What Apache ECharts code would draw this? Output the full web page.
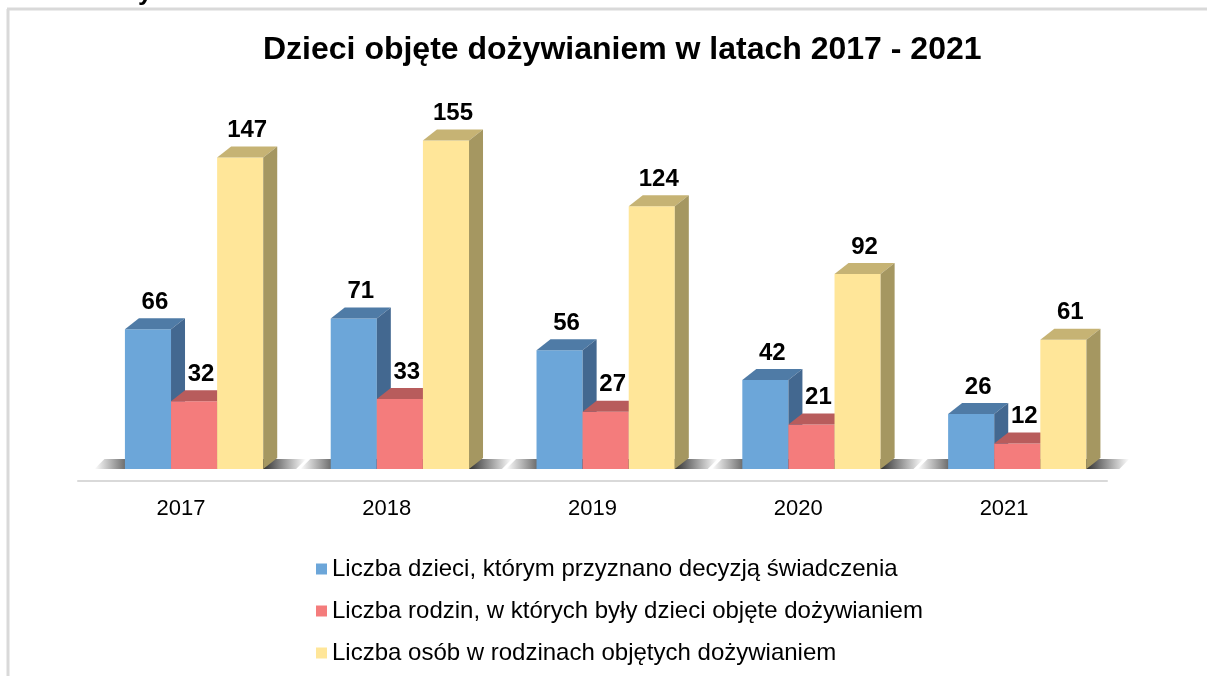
<!DOCTYPE html>
<html lang="pl">
<head>
<meta charset="UTF-8">
<title>Dzieci objęte dożywianiem</title>
<script src="https://cdn.jsdelivr.net/npm/echarts@6/dist/echarts.min.js"></script>
<style>
  html, body { margin: 0; padding: 0; background: #fff; }
  #chart { width: 1207px; height: 676px; }
</style>
</head>
<body>
<div id="chart"></div>
<script>
var years = ['2017', '2018', '2019', '2020', '2021'];
var dzieci = [66, 71, 56, 42, 26];
var rodziny = [32, 33, 27, 21, 12];
var osoby = [147, 155, 124, 92, 61];
var seriesNames = [
  'Liczba dzieci, którym przyznano decyzją świadczenia',
  'Liczba rodzin, w których były dzieci objęte dożywianiem',
  'Liczba osób w rodzinach objętych dożywianiem'
];

// front / top / side colours for each series
var faces = [
  ['#6ca6d9', '#4f7ba6', '#436890'],
  ['#f47c7c', '#b85c5c', '#a35050'],
  ['#ffe699', '#c6b374', '#a59761']
];
var DX = 14, DY = -11;
var FONT = '"Liberation Sans", Arial, sans-serif';

function barRender(s) {
  return function (params, api) {
    var idx = api.value(0);
    var val = api.value(1);
    var base = api.coord([idx, 0]);
    var top = api.coord([idx, val]);
    var band = api.size([1, 0])[0];
    var w = band * 0.224;
    var x0 = base[0] - band * 0.272 + s * w;
    var by = base[1], ty = top[1];
    var c = faces[s];
    return {
      type: 'group',
      children: [
        { type: 'rect', shape: { x: x0, y: ty, width: w, height: by - ty }, style: { fill: c[0] } },
        { type: 'polygon', shape: { points: [[x0, ty], [x0 + DX, ty + DY], [x0 + w + DX, ty + DY], [x0 + w, ty]] }, style: { fill: c[1] } },
        { type: 'polygon', shape: { points: [[x0 + w, ty], [x0 + w + DX, ty + DY], [x0 + w + DX, by + DY], [x0 + w, by]] }, style: { fill: c[2] } },
        { type: 'text', x: x0 + w / 2 + DX / 2, y: ty + DY - 4,
          style: { text: String(val), align: 'center', verticalAlign: 'bottom',
                   font: 'bold 24px ' + FONT, fill: '#000' } }
      ]
    };
  };
}

function shadowRender(params, api) {
  var idx = api.value(0);
  var base = api.coord([idx, 0]);
  var band = api.size([1, 0])[0];
  var l = base[0] - band * 0.42, r = base[0] + band * 0.56;
  var y = base[1];
  return {
    type: 'polygon',
    shape: { points: [[l, y], [r, y], [r + 10, y - 10], [l + 10, y - 10]] },
    style: {
      fill: {
        type: 'linear', x: 0, y: 0, x2: 1, y2: 0,
        colorStops: [
          { offset: 0, color: 'rgba(40,40,40,0)' },
          { offset: 0.2, color: 'rgba(30,30,30,0.9)' },
          { offset: 0.8, color: 'rgba(30,30,30,0.9)' },
          { offset: 1, color: 'rgba(40,40,40,0)' }
        ]
      }
    }
  };
}

function toData(arr) {
  return arr.map(function (v, i) { return [i, v]; });
}

var chart = echarts.init(document.getElementById('chart'));
chart.setOption({
  animation: false,
  backgroundColor: '#fff',
  title: {
    text: 'Dzieci objęte dożywianiem w latach 2017 - 2021',
    left: 258, top: 29,
    textStyle: { fontFamily: FONT, fontSize: 32, fontWeight: 'bold', color: '#000' }
  },
  legend: {
    orient: 'vertical',
    left: 311, top: 551,
    icon: 'rect', itemWidth: 11, itemHeight: 11, itemGap: 16,
    textStyle: { fontFamily: FONT, fontSize: 24, color: '#000', lineHeight: 26 },
    data: seriesNames
  },
  grid: { left: 78, right: 100, top: 130, bottom: 207 },
  xAxis: {
    type: 'category',
    data: years,
    offset: 12,
    axisLine: { onZero: false, lineStyle: { color: '#d9d9d9', width: 2 } },
    axisTick: { show: false },
    axisLabel: { fontFamily: FONT, fontSize: 22, color: '#000', margin: 17 }
  },
  yAxis: { type: 'value', min: 0, max: 160, show: false, splitLine: { show: false } },
  graphic: [
    { type: 'line', shape: { x1: 7, y1: 9, x2: 1207, y2: 9 }, style: { stroke: '#d9d9d9', lineWidth: 3 } },
    { type: 'line', shape: { x1: 8, y1: 9, x2: 8, y2: 676 }, style: { stroke: '#d9d9d9', lineWidth: 3 } },
    { type: 'text', x: 138, y: -20, style: { text: 'y', font: 'bold 26px ' + FONT, fill: '#000' } }
  ],
  series: [
    { type: 'custom', name: 'cien', renderItem: shadowRender, data: years.map(function (y, i) { return [i]; }), silent: true, z: 1 },
    { type: 'custom', name: seriesNames[0], renderItem: barRender(0), data: toData(dzieci), itemStyle: { color: faces[0][0] }, z: 2 },
    { type: 'custom', name: seriesNames[1], renderItem: barRender(1), data: toData(rodziny), itemStyle: { color: faces[1][0] }, z: 3 },
    { type: 'custom', name: seriesNames[2], renderItem: barRender(2), data: toData(osoby), itemStyle: { color: faces[2][0] }, z: 4 }
  ]
});
</script>
</body>
</html>
